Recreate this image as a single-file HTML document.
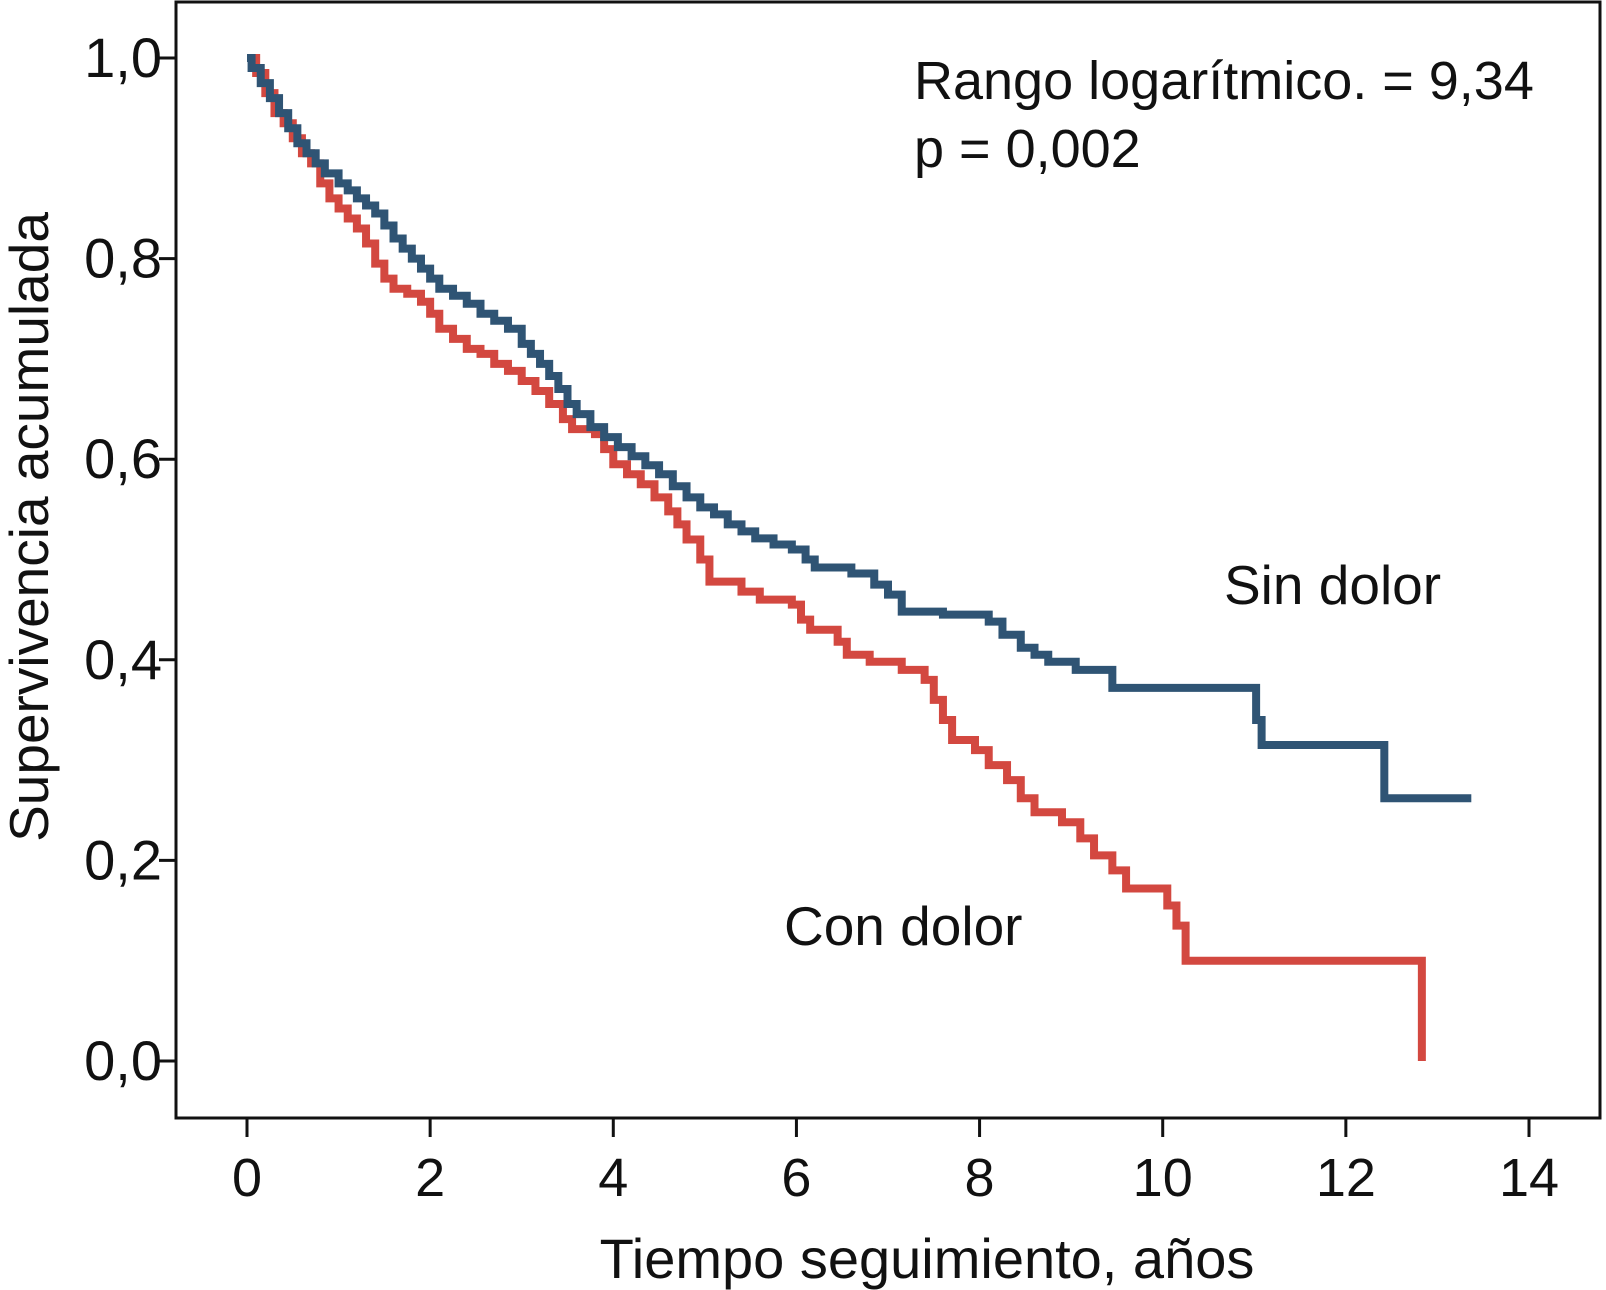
<!DOCTYPE html>
<html><head><meta charset="utf-8"><style>
html,body{margin:0;padding:0;background:#fff;}
svg{display:block;}
text{font-family:"Liberation Sans",sans-serif;fill:#111;}
</style></head><body>
<svg width="1606" height="1290" viewBox="0 0 1606 1290" id="chart">
<rect x="176" y="2" width="1424" height="1116" fill="none" stroke="#111" stroke-width="3"/>
<g id="axes"></g>
<g id="series"></g>
<text x="914" y="99" font-size="54">Rango logarítmico. = 9,34</text>
<text x="914" y="167" font-size="54">p = 0,002</text>
<text x="1224" y="604" font-size="55">Sin dolor</text>
<text x="784" y="945" font-size="55">Con dolor</text>
<text x="927" y="1278" font-size="56" text-anchor="middle">Tiempo seguimiento, años</text>
<text transform="translate(48,527) rotate(-90)" font-size="55" text-anchor="middle">Supervivencia acumulada</text>
</svg>
<script>
const xTicks = [0,2,4,6,8,10,12,14];
const yTicks = [0,0.2,0.4,0.6,0.8,1.0];
const yTickLabels = ["0,0","0,2","0,4","0,6","0,8","1,0"];
const sinTime = [0,0.05,0.15,0.25,0.35,0.45,0.55,0.65,0.75,0.85,1.0,1.1,1.2,1.3,1.4,1.5,1.6,1.7,1.8,1.9,2.0,2.1,2.25,2.4,2.55,2.7,2.85,3.0,3.1,3.2,3.3,3.4,3.5,3.6,3.75,3.9,4.05,4.2,4.35,4.5,4.65,4.8,4.95,5.1,5.25,5.4,5.55,5.75,5.95,6.1,6.2,6.6,6.85,7.0,7.15,7.6,8.1,8.25,8.45,8.6,8.75,9.05,9.45,11.02,11.08,12.42,13.37];
const sinSurv = [1.0,0.99,0.975,0.96,0.945,0.93,0.915,0.905,0.895,0.885,0.875,0.868,0.86,0.853,0.845,0.833,0.82,0.81,0.80,0.79,0.78,0.77,0.763,0.755,0.745,0.738,0.73,0.715,0.705,0.695,0.683,0.67,0.655,0.645,0.632,0.622,0.612,0.603,0.594,0.585,0.573,0.562,0.552,0.545,0.535,0.528,0.521,0.515,0.51,0.5,0.492,0.486,0.475,0.465,0.448,0.445,0.438,0.425,0.412,0.405,0.398,0.39,0.372,0.34,0.315,0.262,0.262];
const conTime = [0,0.1,0.2,0.3,0.4,0.5,0.6,0.7,0.8,0.9,1.0,1.1,1.2,1.3,1.4,1.5,1.6,1.75,1.9,2.0,2.1,2.25,2.4,2.55,2.7,2.85,3.0,3.15,3.3,3.45,3.55,3.8,3.9,4.0,4.15,4.3,4.45,4.6,4.7,4.8,4.95,5.05,5.4,5.6,5.95,6.05,6.15,6.45,6.55,6.8,7.15,7.4,7.5,7.6,7.7,7.95,8.1,8.3,8.45,8.6,8.9,9.1,9.25,9.45,9.6,10.05,10.15,10.25,12.83];
const conSurv = [1.0,0.985,0.965,0.945,0.935,0.92,0.905,0.895,0.875,0.86,0.85,0.84,0.83,0.815,0.795,0.78,0.77,0.765,0.757,0.745,0.73,0.72,0.71,0.705,0.695,0.688,0.678,0.668,0.655,0.64,0.63,0.625,0.61,0.595,0.585,0.575,0.562,0.548,0.535,0.52,0.5,0.478,0.468,0.46,0.455,0.44,0.43,0.418,0.405,0.398,0.39,0.38,0.36,0.34,0.32,0.31,0.295,0.28,0.262,0.248,0.238,0.222,0.205,0.19,0.172,0.155,0.135,0.10,0.0];

const NS='http://www.w3.org/2000/svg';
const X = t => 247 + t*(1529-247)/14;
const Y = s => 1061 - s*(1061-58);
const axes=document.getElementById('axes');
xTicks.forEach(t=>{
  const l=document.createElementNS(NS,'line');
  l.setAttribute('x1',X(t));l.setAttribute('x2',X(t));l.setAttribute('y1',1118);l.setAttribute('y2',1137);
  l.setAttribute('stroke','#111');l.setAttribute('stroke-width','3');
  
  
  axes.appendChild(l);
  const tx=document.createElementNS(NS,'text');
  tx.setAttribute('x',X(t));tx.setAttribute('y',1196);tx.setAttribute('font-size','54');tx.setAttribute('text-anchor','middle');
  tx.textContent=String(t);
  
  
  axes.appendChild(tx);
});
yTicks.forEach((s,i)=>{
  const l=document.createElementNS(NS,'line');
  l.setAttribute('x1',159);l.setAttribute('x2',176);l.setAttribute('y1',Y(s));l.setAttribute('y2',Y(s));
  l.setAttribute('stroke','#111');l.setAttribute('stroke-width','3');
  
  
  axes.appendChild(l);
  const tx=document.createElementNS(NS,'text');
  tx.setAttribute('x',162);tx.setAttribute('y',Y(s)+19);tx.setAttribute('font-size','56');tx.setAttribute('text-anchor','end');
  tx.textContent=yTickLabels[i];
  
  
  axes.appendChild(tx);
});
function stepPath(ts,ss){
  let d='M'+X(ts[0])+','+Y(ss[0]);
  for(let i=1;i<ts.length;i++){d+=' H'+X(ts[i])+' V'+Y(ss[i]);}
  return d;
}
const g=document.getElementById('series');
function addSeries(ts,ss,color,name){
  const p=document.createElementNS(NS,'path');
  p.setAttribute('d',stepPath(ts,ss));
  p.setAttribute('fill','none');p.setAttribute('stroke',color);p.setAttribute('stroke-width','8');
  p.setAttribute('stroke-linejoin','miter');
  
  
  g.appendChild(p);
}
addSeries(conTime,conSurv,'#d34840','con-dolor-curve');
addSeries(sinTime,sinSurv,'#2f5474','sin-dolor-curve');
</script>
</body></html>
